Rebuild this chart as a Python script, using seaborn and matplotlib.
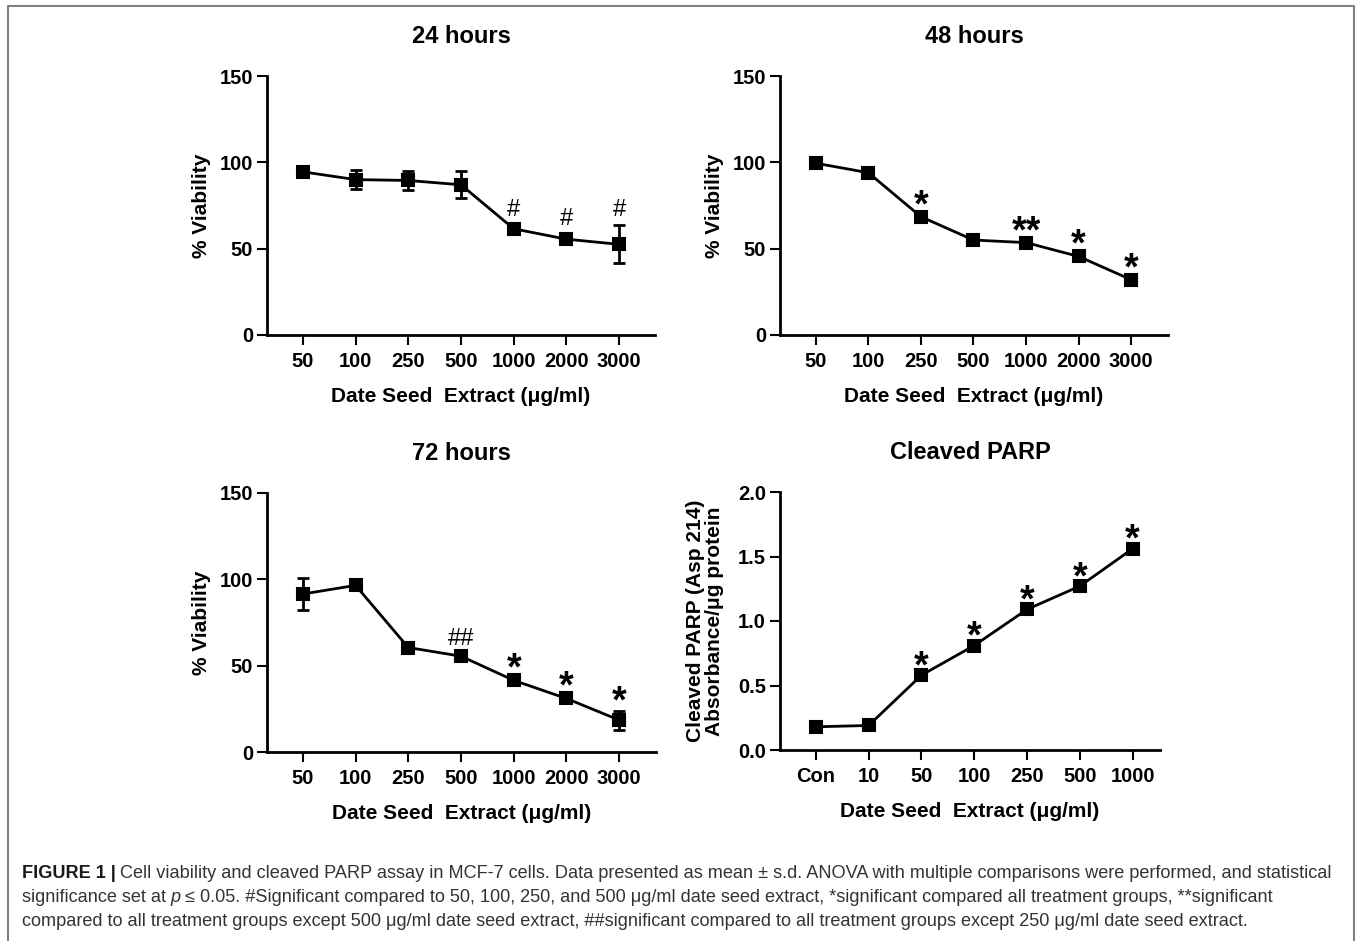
import pandas as pd
import matplotlib
matplotlib.use("Agg")
import matplotlib.pyplot as plt
import seaborn as sns
from matplotlib.lines import Line2D

# --- values ---
doses_viab = ["50", "100", "250", "500", "1000", "2000", "3000"]

mean_24h = [94.5, 90.0, 89.5, 87.0, 61.5, 55.5, 52.5]
sd_24h = [3.0, 5.5, 5.5, 7.8, 2.0, 3.0, 11.0]
sig_24h = ["", "", "", "", "#", "#", "#"]

mean_48h = [99.5, 94.0, 68.5, 55.0, 53.5, 45.5, 32.0]
sd_48h = [1.0, 1.2, 1.5, 1.0, 1.3, 1.5, 1.2]
sig_48h = ["", "", "*", "", "**", "*", "*"]

mean_72h = [91.5, 96.5, 60.5, 55.5, 41.5, 31.0, 18.5]
sd_72h = [9.3, 1.5, 1.5, 1.5, 1.5, 1.5, 5.5]
sig_72h = ["", "", "", "##", "*", "*", "*"]

doses_parp = ["Con", "10", "50", "100", "250", "500", "1000"]
mean_parp = [0.18, 0.19, 0.58, 0.81, 1.09, 1.27, 1.56]
sig_parp = ["", "", "*", "*", "*", "*", "*"]

viab_ticks = [0, 50, 100, 150]
parp_ticks = [0.0, 0.5, 1.0, 1.5, 2.0]

XLABEL = "Date Seed  Extract (\u03bcg/ml)"

sns.set_theme(style="ticks")
plt.rcParams["font.family"] = ["Liberation Sans", "DejaVu Sans"]
plt.rcParams.update({
    "axes.edgecolor": "black",
    "xtick.color": "black",
    "ytick.color": "black",
    "text.color": "black",
    "axes.labelcolor": "black",
})

W, H = 1358, 941
fig = plt.figure(figsize=(W / 100, H / 100), dpi=100)


def px_axes(left, top, right, bottom):
    return fig.add_axes([left / W, 1 - bottom / H, (right - left) / W, (bottom - top) / H])


def draw_panel(ax, doses, means, sds, sig, title, ylabel, ylim, yticks, yticklabels, xlim):
    df = pd.DataFrame({"dose": doses, "value": means})
    sns.pointplot(data=df, x="dose", y="value", order=doses, color="black",
                  markers="s", markersize=8.5, linewidth=2, errorbar=None, ax=ax)
    if sds is not None:
        ax.errorbar(range(len(doses)), means, yerr=sds, fmt="none", ecolor="black",
                    elinewidth=2, capsize=4.5, capthick=2, zorder=1)
    else:
        sds = [0] * len(means)

    for i, (m, s, lab) in enumerate(zip(means, sds, sig)):
        if not lab:
            continue
        if lab.startswith("#"):
            ax.annotate(lab, (i, m + s), xytext=(0, 6.5), textcoords="offset points",
                        ha="center", va="baseline", fontsize=17)
        else:
            ax.annotate(lab, (i, m + s), xytext=(0, -1.5), textcoords="offset points",
                        ha="center", va="baseline", fontsize=27, fontweight="bold")

    ax.set_xlim(xlim)
    ax.set_ylim(ylim)
    ax.set_yticks(yticks)
    ax.set_yticklabels(yticklabels)
    sns.despine(ax=ax)
    ax.spines["left"].set_linewidth(2)
    ax.spines["bottom"].set_linewidth(2)
    ax.tick_params(width=1.5, length=7, labelsize=14.5, pad=3)
    ax.tick_params(axis="x", pad=5.5)
    for t in ax.get_xticklabels() + ax.get_yticklabels():
        t.set_fontweight("bold")
    ax.set_title(title, fontsize=17, fontweight="bold", pad=24)
    ax.set_xlabel(XLABEL, fontsize=15, fontweight="bold", labelpad=11)
    ax.set_ylabel(ylabel, fontsize=15, fontweight="bold", labelpad=6, linespacing=1.0)


ax1 = px_axes(267, 76, 655, 335)
ax2 = px_axes(780, 76, 1168, 335)
ax3 = px_axes(267, 493, 656, 752)
ax4 = px_axes(780, 492, 1160, 750)

viab_labels = [str(v) for v in viab_ticks]
parp_labels = ["%.1f" % v for v in parp_ticks]

draw_panel(ax1, doses_viab, mean_24h, sd_24h, sig_24h, "24 hours", "% Viability",
           (0, 150), viab_ticks, viab_labels, (-0.68, 6.68))
draw_panel(ax2, doses_viab, mean_48h, sd_48h, sig_48h, "48 hours", "% Viability",
           (0, 150), viab_ticks, viab_labels, (-0.68, 6.7))
draw_panel(ax3, doses_viab, mean_72h, sd_72h, sig_72h, "72 hours", "% Viability",
           (0, 150), viab_ticks, viab_labels, (-0.68, 6.7))
draw_panel(ax4, doses_parp, mean_parp, None, sig_parp, "Cleaved PARP",
           "Cleaved PARP (Asp 214)\nAbsorbance/\u03bcg protein",
           (0, 2.0), parp_ticks, parp_labels, (-0.68, 6.52))
ax4.yaxis.labelpad = 10

# frame around the figure
fig.add_artist(Line2D([8 / W, 8 / W, 1354 / W, 1354 / W], [0, 1 - 6 / H, 1 - 6 / H, 0],
                      transform=fig.transFigure, color="#808080", lw=1.5))

# caption
renderer = fig.canvas.get_renderer()
CAP_SIZE = 13.05
SPACE = 4.6


def caption_line(y_px, segments):
    x = 22
    for text, style in segments:
        kw = dict(fontsize=CAP_SIZE, va="center", ha="left", color="#333333")
        if style == "bold":
            kw.update(fontweight="bold", color="#1a1a1a")
        elif style == "italic":
            kw.update(fontstyle="italic")
        if text.startswith(" "):
            x += SPACE
        t = fig.text(x / W, 1 - y_px / H, text.strip(), **kw)
        x += t.get_window_extent(renderer).width
        if text.endswith(" "):
            x += SPACE


caption_line(873, [("FIGURE 1 | ", "bold"),
                   ("Cell viability and cleaved PARP assay in MCF-7 cells. Data presented as mean \u00b1 s.d. "
                    "ANOVA with multiple comparisons were performed, and statistical", "regular")])
caption_line(897, [("significance set at ", "regular"), ("p", "italic"),
                   (" \u2264 0.05. #Significant compared to 50, 100, 250, and 500 \u03bcg/ml date seed extract, "
                    "*significant compared all treatment groups, **significant", "regular")])
caption_line(921, [("compared to all treatment groups except 500 \u03bcg/ml date seed extract, ##significant "
                    "compared to all treatment groups except 250 \u03bcg/ml date seed extract.", "regular")])

fig.savefig("out.png", dpi=100)
